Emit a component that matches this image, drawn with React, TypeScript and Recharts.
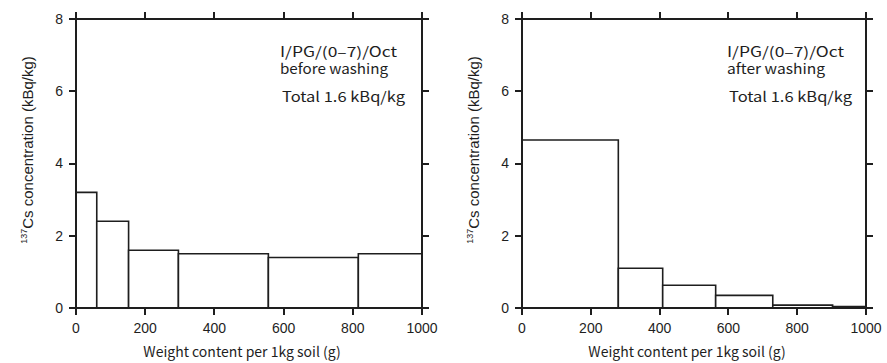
import { ComposedChart, XAxis, YAxis, ReferenceArea } from "recharts";

// bin edges (g per 1 kg soil) and 137Cs concentration (kBq/kg) per bin
const beforeEdges = [0, 60, 152, 296, 556, 816, 1000];
const beforeValues = [3.2, 2.4, 1.6, 1.5, 1.4, 1.5];
const afterEdges = [0, 280, 409, 563, 729, 903, 1000];
const afterValues = [4.65, 1.1, 0.63, 0.35, 0.08, 0.04];

const xTicks = [0, 200, 400, 600, 800, 1000];
const yTicks = [0, 2, 4, 6, 8];

const sampleName = "I/PG/(0\u20137)/Oct";
const beforeCaption = "before washing";
const afterCaption = "after washing";
const totalText = "Total  1.6 kBq/kg";
const xTitle = "Weight content per 1kg soil (g)";

const INK = "#1e1e1e";
const sans = "'Liberation Sans', Arial, sans-serif";
const jpFont = "'Noto Sans CJK JP', sans-serif";
const TICK = 7;
const X_MAX = 1000;
const Y_MAX = 8;
const PLOT_TOP = 19;
const PLOT_BOTTOM = 308;
const RIGHT_GAP = 21;

type Bin = { x0: number; x1: number; value: number };

function toBins(edges: number[], values: number[]): Bin[] {
  return values.map((value, i) => ({ x0: edges[i], x1: edges[i + 1], value }));
}

function BottomTick({ x, y, payload }: any) {
  return (
    <text x={x} y={y} dy="0.71em" textAnchor="middle" fontFamily={sans} fontSize={14} fill={INK}>
      {payload.value}
    </text>
  );
}

function LeftTick({ x, y, payload }: any) {
  return (
    <text x={x} y={y} dy="0.355em" textAnchor="end" fontFamily={sans} fontSize={14} fill={INK}>
      {payload.value}
    </text>
  );
}

function CsLabel({ viewBox }: any) {
  const x = viewBox.x + viewBox.width - 43;
  const y = 150;
  return (
    <text
      x={x}
      y={y}
      transform={`rotate(-90 ${x} ${y})`}
      textAnchor="middle"
      fontFamily={sans}
      fontSize={15}
      fill={INK}
    >
      <tspan fontSize={9} dy={-6}>137</tspan>
      <tspan dy={6}>Cs concentration (kBq/kg)</tspan>
    </text>
  );
}

function XTitle({ viewBox }: any) {
  const x = viewBox.x + viewBox.width / 2 - 7;
  return (
    <text x={x} y={357} textAnchor="middle" fontFamily={jpFont} fontSize={14} fill={INK}>
      {xTitle}
    </text>
  );
}

// box frame with outward ticks on all four sides, laid over the plot area
function Frame({ left, right }: { left: number; right: number }) {
  const w = right - left;
  const h = PLOT_BOTTOM - PLOT_TOP;
  const mark = (l: number, t: number, mw: number, mh: number, key: string) => (
    <div key={key} style={{ position: "absolute", left: l, top: t, width: mw, height: mh, background: INK }} />
  );
  return (
    <div style={{ position: "absolute", left: 0, top: 0, pointerEvents: "none" }}>
      <div
        style={{
          position: "absolute",
          left: left - 1,
          top: PLOT_TOP - 1,
          width: w + 2,
          height: h + 2,
          border: `2px solid ${INK}`,
          boxSizing: "border-box",
        }}
      />
      {xTicks.map((t) => {
        const px = left + (t / X_MAX) * w;
        return [
          mark(px - 1, PLOT_BOTTOM, 2, TICK, `b${t}`),
          mark(px - 1, PLOT_TOP - TICK, 2, TICK, `t${t}`),
        ];
      })}
      {yTicks.map((v) => {
        const py = PLOT_BOTTOM - (v / Y_MAX) * h;
        return [
          mark(left - TICK, py - 1, TICK, 2, `l${v}`),
          mark(right, py - 1, TICK, 2, `r${v}`),
        ];
      })}
    </div>
  );
}

type PanelProps = {
  bins: Bin[];
  caption: string;
  captionWidth: number;
  width: number;
  axisWidth: number;
  noteX: number;
};

function Panel({ bins, caption, captionWidth, width, axisWidth, noteX }: PanelProps) {
  return (
    <div style={{ position: "relative", width, height: 363 }}>
      <ComposedChart
        width={width}
        height={363}
        data={bins}
        margin={{ top: PLOT_TOP, right: RIGHT_GAP, bottom: 0, left: 0 }}
      >
        {bins.map((b, i) => (
          <ReferenceArea
            key={i}
            x1={b.x0}
            x2={b.x1}
            y1={0}
            y2={b.value}
            fill="#ffffff"
            fillOpacity={1}
            stroke={INK}
            strokeWidth={1.6}
            strokeOpacity={1}
          />
        ))}
        <XAxis
          type="number"
          dataKey="x0"
          domain={[0, X_MAX]}
          ticks={xTicks}
          interval={0}
          allowDataOverflow
          height={363 - PLOT_BOTTOM}
          tickSize={TICK}
          tickMargin={8}
          axisLine={false}
          tickLine={false}
          tick={BottomTick}
          label={<XTitle />}
        />
        <YAxis
          type="number"
          domain={[0, Y_MAX]}
          ticks={yTicks}
          interval={0}
          allowDataOverflow
          width={axisWidth}
          tickSize={TICK}
          tickMargin={6}
          axisLine={false}
          tickLine={false}
          tick={LeftTick}
          label={<CsLabel />}
        />
      </ComposedChart>
      <Frame left={axisWidth} right={width - RIGHT_GAP} />
      <svg
        width={width}
        height={363}
        style={{ position: "absolute", left: 0, top: 0, pointerEvents: "none" }}
      >
        <text fontFamily={jpFont} fontSize={14} fill={INK}>
          <tspan x={noteX} y={57} textLength={117} lengthAdjust="spacingAndGlyphs">
            {sampleName}
          </tspan>
          <tspan x={noteX} y={74} textLength={captionWidth} lengthAdjust="spacingAndGlyphs">
            {caption}
          </tspan>
        </text>
        <text
          x={noteX + 2}
          y={102}
          fontFamily={jpFont}
          fontSize={14}
          fill={INK}
          textLength={123}
          lengthAdjust="spacingAndGlyphs"
        >
          {totalText}
        </text>
      </svg>
    </div>
  );
}

export default function App() {
  return (
    <div
      style={{
        position: "absolute",
        left: 0,
        top: 0,
        width: 887,
        height: 363,
        display: "flex",
        background: "#ffffff",
      }}
    >
      <Panel
        bins={toBins(beforeEdges, beforeValues)}
        caption={beforeCaption}
        captionWidth={108}
        width={443}
        axisWidth={76}
        noteX={280}
      />
      <Panel
        bins={toBins(afterEdges, afterValues)}
        caption={afterCaption}
        captionWidth={98}
        width={444}
        axisWidth={79}
        noteX={284}
      />
    </div>
  );
}
